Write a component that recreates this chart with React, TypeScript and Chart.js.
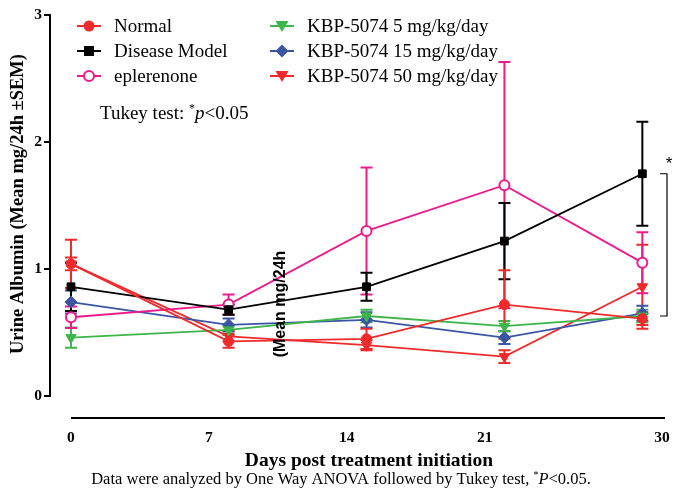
import React, { useEffect, useRef } from "react";
import { Chart, registerables } from "chart.js";

Chart.register(...registerables);

// Study days at which urine was collected
const days = [0, 8, 15, 22, 29];
const xTickDays = [0, 7, 14, 21, 30];

// Group means (mg/24h) and SEM
const normal = [1.04, 0.43, 0.45, 0.72, 0.61];
const normalSem = [0.19, 0.05, 0.08, 0.27, 0.05];
const diseaseModel = [0.86, 0.68, 0.86, 1.22, 1.75];
const diseaseModelSem = [0.19, 0.04, 0.11, 0.3, 0.41];
const eplerenone = [0.62, 0.72, 1.3, 1.66, 1.05];
const eplerenoneSem = [0.085, 0.08, 0.5, 0.97, 0.24];
const kbp5 = [0.46, 0.52, 0.63, 0.55, 0.63];
const kbp5Sem = [0.08, 0.03, 0.05, 0.04, 0.05];
const kbp15 = [0.74, 0.56, 0.6, 0.46, 0.65];
const kbp15Sem = [0.09, 0.05, 0.06, 0.05, 0.06];
const kbp50 = [1.04, 0.47, 0.4, 0.31, 0.86];
const kbp50Sem = [0.05, 0.04, 0.04, 0.05, 0.33];

const seriesNames = [
  "Normal",
  "Disease Model",
  "eplerenone",
  "KBP-5074 5 mg/kg/day",
  "KBP-5074 15 mg/kg/day",
  "KBP-5074 50 mg/kg/day",
];

// Significance bracket spans day-29 Disease Model vs. treated groups
const bracketTop = 1.75;
const bracketBottom = 0.63;

const SERIF = '"Liberation Serif", "Times New Roman", serif';
const SANS = '"Liberation Sans", Arial, sans-serif';

const RED = "#ee2a2a";
const BLACK = "#000000";
const PINK = "#ec1a8a";
const GREEN = "#3db54a";
const BLUE = "#3b55a5";

type Marker = "circle" | "openCircle" | "square" | "triDown" | "diamond";

function drawMarker(ctx: CanvasRenderingContext2D, kind: Marker, x: number, y: number, color: string) {
  ctx.save();
  ctx.fillStyle = color;
  ctx.strokeStyle = color;
  ctx.lineWidth = 2;
  ctx.beginPath();
  if (kind === "circle") {
    ctx.arc(x, y, 5.5, 0, Math.PI * 2);
    ctx.fill();
  } else if (kind === "openCircle") {
    ctx.arc(x, y, 5, 0, Math.PI * 2);
    ctx.fillStyle = "#fff";
    ctx.fill();
    ctx.stroke();
  } else if (kind === "square") {
    ctx.rect(x - 5, y - 5, 10, 10);
    ctx.fill();
  } else if (kind === "triDown") {
    ctx.moveTo(x - 6.5, y - 5);
    ctx.lineTo(x + 6.5, y - 5);
    ctx.lineTo(x, y + 6);
    ctx.closePath();
    ctx.fill();
  } else if (kind === "diamond") {
    ctx.moveTo(x, y - 6.5);
    ctx.lineTo(x + 6.5, y);
    ctx.lineTo(x, y + 6.5);
    ctx.lineTo(x - 6.5, y);
    ctx.closePath();
    ctx.fill();
  }
  ctx.restore();
}

const markers: Marker[] = ["circle", "square", "openCircle", "triDown", "diamond", "triDown"];
const colors = [RED, BLACK, PINK, GREEN, BLUE, RED];
const values = [normal, diseaseModel, eplerenone, kbp5, kbp15, kbp50];
const sems = [normalSem, diseaseModelSem, eplerenoneSem, kbp5Sem, kbp15Sem, kbp50Sem];

// Vertical SEM whiskers with caps, drawn underneath the markers
const errorBarPlugin = {
  id: "errorBars",
  beforeDatasetsDraw(chart: any) {
    const ctx = chart.ctx as CanvasRenderingContext2D;
    const yScale = chart.scales.y;
    const xScale = chart.scales.x;
    ctx.save();
    ctx.lineWidth = 2;
    for (let i = values.length - 1; i >= 0; i--) {
      ctx.strokeStyle = colors[i];
      values[i].forEach((v, j) => {
        const x = xScale.getPixelForValue(days[j]);
        const yT = yScale.getPixelForValue(v + sems[i][j]);
        const yB = yScale.getPixelForValue(v - sems[i][j]);
        ctx.beginPath();
        ctx.moveTo(x, yT);
        ctx.lineTo(x, yB);
        ctx.moveTo(x - 6, yT);
        ctx.lineTo(x + 6, yT);
        ctx.moveTo(x - 6, yB);
        ctx.lineTo(x + 6, yB);
        ctx.stroke();
      });
    }
    ctx.restore();
  },
};

function drawRich(
  ctx: CanvasRenderingContext2D,
  parts: { t: string; font: string; dy?: number }[],
  x: number,
  y: number,
  align: "left" | "center"
) {
  let total = 0;
  for (const p of parts) {
    ctx.font = p.font;
    total += ctx.measureText(p.t).width;
  }
  let cx = align === "center" ? x - total / 2 : x;
  ctx.textAlign = "left";
  ctx.textBaseline = "alphabetic";
  for (const p of parts) {
    ctx.font = p.font;
    ctx.fillText(p.t, cx, y + (p.dy || 0));
    cx += ctx.measureText(p.t).width;
  }
}

// Legend, axis line, titles, notes and the significance bracket
const decorPlugin = {
  id: "decor",
  afterDraw(chart: any) {
    const ctx = chart.ctx as CanvasRenderingContext2D;
    const xScale = chart.scales.x;
    const yScale = chart.scales.y;
    const area = chart.chartArea;
    ctx.save();
    ctx.fillStyle = "#000";

    // detached x axis line
    ctx.strokeStyle = "#000";
    ctx.lineWidth = 2;
    ctx.beginPath();
    ctx.moveTo(xScale.getPixelForValue(0), area.bottom + 22);
    ctx.lineTo(area.right, area.bottom + 22);
    ctx.stroke();

    // legend in two columns
    const cols = [
      { lx: 77, tx: 114 },
      { lx: 270, tx: 307 },
    ];
    const rows = [26, 51, 76];
    seriesNames.forEach((name, i) => {
      const c = cols[Math.floor(i / 3)];
      const y = rows[i % 3];
      ctx.strokeStyle = colors[i];
      ctx.lineWidth = 2;
      ctx.beginPath();
      ctx.moveTo(c.lx, y);
      ctx.lineTo(c.lx + 24, y);
      ctx.stroke();
      drawMarker(ctx, markers[i], c.lx + 12, y, colors[i]);
      ctx.fillStyle = "#000";
      ctx.font = `19px ${SERIF}`;
      ctx.textAlign = "left";
      ctx.textBaseline = "middle";
      ctx.fillText(name, c.tx, y + 1);
    });

    // statistics note
    drawRich(
      ctx,
      [
        { t: "Tukey test: ", font: `19px ${SERIF}` },
        { t: "*", font: `12px ${SERIF}`, dy: -7 },
        { t: "p", font: `italic 19px ${SERIF}` },
        { t: "<0.05", font: `19px ${SERIF}` },
      ],
      100,
      119,
      "left"
    );

    // y axis title
    ctx.save();
    ctx.translate(18, 204);
    ctx.rotate(-Math.PI / 2);
    ctx.font = `bold 18.5px ${SERIF}`;
    ctx.textAlign = "center";
    ctx.textBaseline = "middle";
    ctx.fillText("Urine Albumin (Mean mg/24h ±SEM)", 0, 0);
    ctx.restore();

    // stray rotated label over the plot
    ctx.save();
    ctx.translate(281, 304);
    ctx.rotate(-Math.PI / 2);
    ctx.font = `bold 16px ${SANS}`;
    ctx.textAlign = "center";
    ctx.textBaseline = "middle";
    ctx.fillText("(Mean mg/24h", 0, 0);
    ctx.restore();

    // x axis title and footnote
    ctx.font = `bold 19.5px ${SERIF}`;
    ctx.textAlign = "center";
    ctx.textBaseline = "middle";
    ctx.fillText("Days post treatment initiation", 369, 461);
    drawRich(
      ctx,
      [
        { t: "Data were analyzed by One Way ANOVA followed by Tukey test, ", font: `16.5px ${SERIF}` },
        { t: "*", font: `10px ${SERIF}`, dy: -6 },
        { t: "P", font: `italic 16.5px ${SERIF}` },
        { t: "<0.05.", font: `16.5px ${SERIF}` },
      ],
      341,
      484,
      "center"
    );

    // significance bracket
    const bx = 667;
    const bTop = yScale.getPixelForValue(bracketTop);
    const bBot = yScale.getPixelForValue(bracketBottom);
    ctx.strokeStyle = "#000";
    ctx.lineWidth = 1.2;
    ctx.beginPath();
    ctx.moveTo(bx - 7, bTop);
    ctx.lineTo(bx, bTop);
    ctx.lineTo(bx, bBot);
    ctx.lineTo(bx - 7, bBot);
    ctx.stroke();
    ctx.font = `17px ${SANS}`;
    ctx.textAlign = "center";
    ctx.textBaseline = "middle";
    ctx.fillText("*", 669, bTop - 9);

    ctx.restore();
  },
};

export default function App() {
  const canvasRef = useRef<HTMLCanvasElement | null>(null);

  useEffect(() => {
    if (!canvasRef.current) return;
    const datasets = values.map((vals, i) => {
      const m = markers[i];
      return {
        label: seriesNames[i],
        data: vals.map((v, j) => ({ x: days[j], y: v })),
        borderColor: colors[i],
        borderWidth: 1.8,
        backgroundColor: m === "openCircle" ? "#ffffff" : colors[i],
        pointBorderColor: colors[i],
        pointBackgroundColor: m === "openCircle" ? "#ffffff" : colors[i],
        pointBorderWidth: m === "openCircle" ? 2 : 1,
        pointStyle:
          m === "square" ? "rect" : m === "triDown" ? "triangle" : m === "diamond" ? "rectRot" : "circle",
        pointRotation: m === "triDown" ? 180 : 0,
        pointRadius: m === "square" ? 5.5 : m === "diamond" ? 6 : m === "triDown" ? 6 : 5,
        tension: 0,
        fill: false,
      };
    });

    const chart = new Chart(canvasRef.current, {
      type: "line",
      data: { datasets },
      options: {
        animation: false,
        responsive: false,
        layout: { padding: { left: 0, right: 8, top: 15, bottom: 0 } },
        plugins: { legend: { display: false }, tooltip: { enabled: false } },
        scales: {
          x: {
            type: "linear",
            min: -1.065,
            max: 30.15,
            afterBuildTicks: (scale: any) => {
              scale.ticks = xTickDays.map((v) => ({ value: v }));
            },
            afterFit: (scale: any) => {
              scale.height = 92;
              scale.paddingLeft = 0;
              scale.paddingRight = 0;
            },
            grid: { display: false, drawTicks: false },
            border: { display: false },
            ticks: {
              padding: 33,
              color: "#000",
              font: { family: SERIF, size: 15.5, weight: "bold" },
              maxRotation: 0,
              autoSkip: false,
            },
          },
          y: {
            min: 0,
            max: 3,
            afterFit: (scale: any) => {
              scale.width = 50;
              scale.paddingTop = 0;
              scale.paddingBottom = 0;
            },
            grid: {
              drawOnChartArea: false,
              drawTicks: true,
              tickLength: 6,
              color: "#000",
              lineWidth: 2,
            },
            border: { display: true, color: "#000", width: 2 },
            ticks: {
              stepSize: 1,
              padding: 2,
              color: "#000",
              font: { family: SERIF, size: 15.5, weight: "bold" },
            },
          },
        },
      },
      plugins: [errorBarPlugin, decorPlugin],
    } as any);

    return () => chart.destroy();
  }, []);

  return (
    <div style={{ position: "absolute", left: 0, top: 0, width: 673, height: 488, background: "#fff" }}>
      <canvas ref={canvasRef} width={673} height={488} />
    </div>
  );
}
